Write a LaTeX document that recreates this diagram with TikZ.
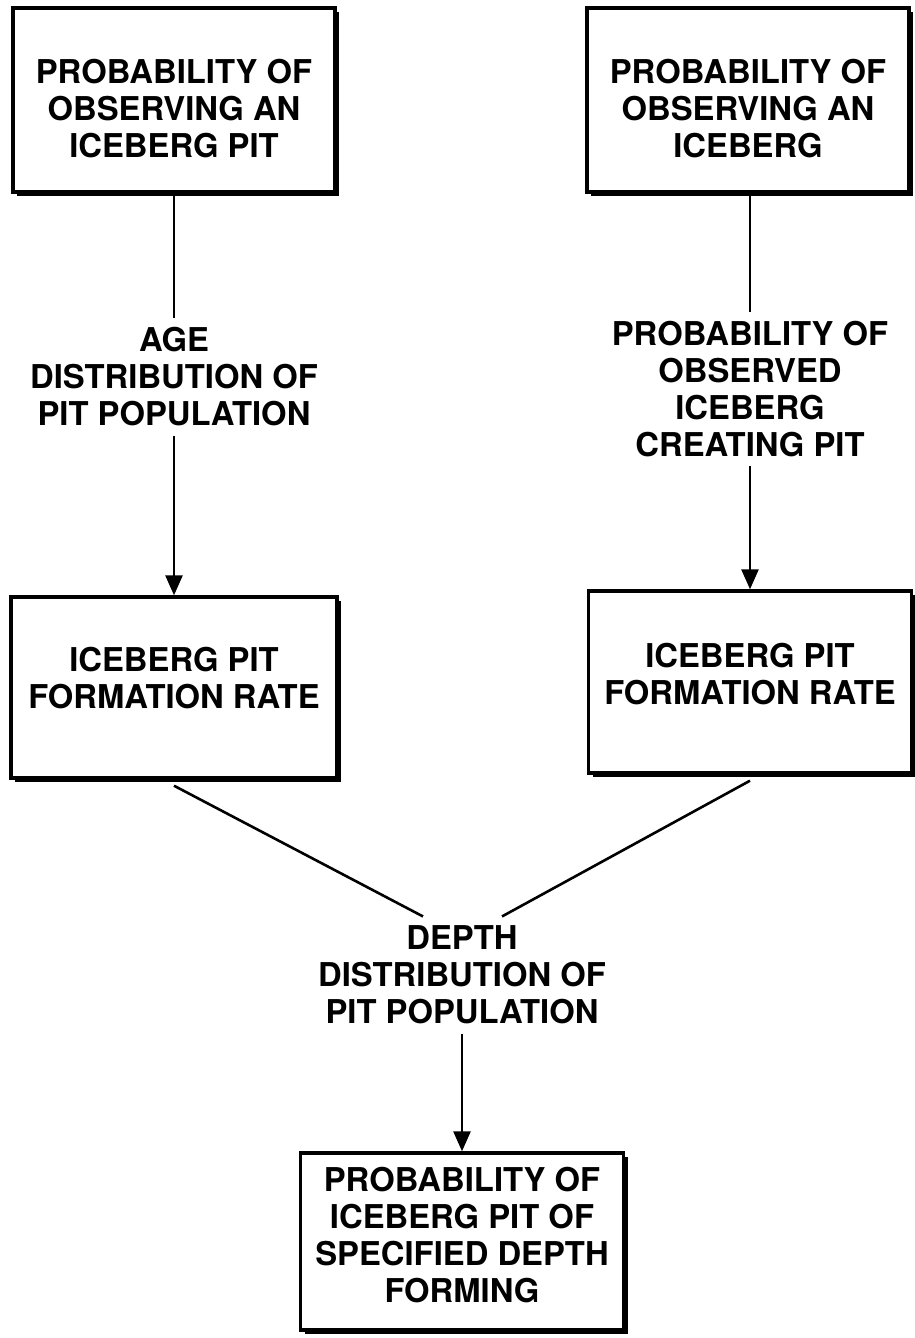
\documentclass[tikz,border=0pt]{standalone}
\usepackage{fontspec}
\setmainfont{TeX Gyre Heros}
\usetikzlibrary{arrows.meta,calc,shadows}
\begin{document}
\begin{tikzpicture}[x=0.5pt,y=-0.5pt,
  box/.style={draw,line width=1.7pt,fill=white,inner sep=0pt,
    drop shadow={shadow xshift=2.2pt,shadow yshift=-2.2pt,fill=black,opacity=1}},
  txt/.style={font=\fontsize{16.4}{18.5}\selectfont\bfseries,align=center,inner sep=0pt},
  lbl/.style={txt,inner sep=4.5pt},
  conn/.style={line width=1.3pt},
  arr/.style={conn,-{Triangle[length=10pt,width=8.5pt]}}]
\useasboundingbox (0,0) rectangle (915,1338);

% boxes
\node[box,minimum width=161pt,minimum height=92pt] (A) at (174,100) {};
\node[box,minimum width=161pt,minimum height=92pt] (B) at (748,100) {};
\node[box,minimum width=163pt,minimum height=90.5pt] (C) at (174,687.5) {};
\node[box,minimum width=161.5pt,minimum height=91pt] (D) at (750,682) {};
\node[box,minimum width=161.5pt,minimum height=88.5pt] (E) at (462,1241.5) {};

% box texts
\node[txt] (At) at (174,109) {PROBABILITY OF\\OBSERVING AN\\ICEBERG PIT};
\node[txt] (Bt) at (748,109) {PROBABILITY OF\\OBSERVING AN\\ICEBERG};
\node[txt] (Ct) at (174,678) {ICEBERG PIT\\FORMATION RATE};
\node[txt] (Dt) at (750,674) {ICEBERG PIT\\FORMATION RATE};
\node[txt] (Et) at (462,1235) {PROBABILITY OF\\ICEBERG PIT OF\\SPECIFIED DEPTH\\FORMING};

% labels
\node[lbl] (age) at (174,377) {AGE\\DISTRIBUTION OF\\PIT POPULATION};
\node[lbl] (obs) at (750,389) {PROBABILITY OF\\OBSERVED\\ICEBERG\\CREATING PIT};
\node[lbl] (dep) at (462,975) {DEPTH\\DISTRIBUTION OF\\PIT POPULATION};

% connectors
\draw[conn] (A.south) -- (A.south |- age.north);
\draw[arr] (age.south) -- (age.south |- C.north);
\draw[conn] (B.south -| obs.north) -- (obs.north);
\draw[arr] (obs.south) -- (obs.south |- D.north);
\coordinate (dl) at ($(dep.north)+(-39,0)$);
\coordinate (dr) at ($(dep.north)+(40,0)$);
\draw[conn] ($(C.south)+(0,6)$) -- (dl);
\draw[conn] ($(D.south)+(0,6)$) -- (dr);
\draw[arr] (dep.south) -- (dep.south |- E.north);
\end{tikzpicture}
\end{document}
